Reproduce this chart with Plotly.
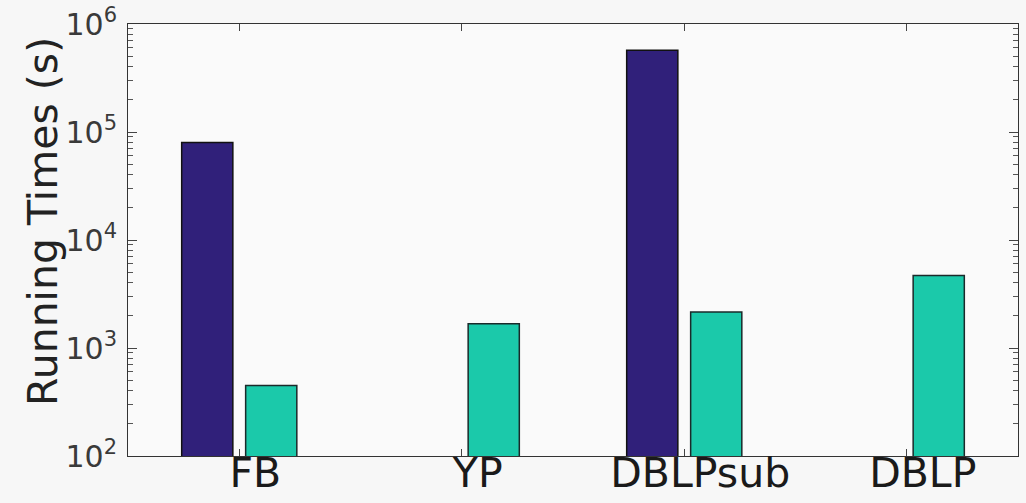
import plotly.graph_objects as go

categories = ["FB", "YP", "DBLPsub", "DBLP"]
series_a = [80000, None, 570000, None]
series_b = [450, 1680, 2150, 4700]
ytick_vals = [100, 1000, 10000, 100000, 1000000]
ytick_text = ["10<sup>2</sup>", "10<sup>3</sup>", "10<sup>4</sup>", "10<sup>5</sup>", "10<sup>6</sup>"]
yminor_vals = [m * 10 ** e for e in range(2, 6) for m in range(2, 10)]
y_title = "Running Times (s)"

NAVY = "#30207a"
TEAL = "#1bc9aa"

fig = go.Figure()
fig.add_trace(go.Bar(x=categories, y=series_a, marker=dict(color=NAVY, line=dict(color="#111", width=1.5)),
                     showlegend=False))
fig.add_trace(go.Bar(x=categories, y=series_b, marker=dict(color=TEAL, line=dict(color="#1a2a2a", width=1.5)),
                     showlegend=False))

fig.update_layout(
    width=1026, height=503,
    margin=dict(l=128, r=8, t=24, b=47),
    paper_bgcolor="#f7f7f7",
    plot_bgcolor="#fafafa",
    barmode="group",
    bargap=0.425,
    bargroupgap=0.2,
    font=dict(family="DejaVu Sans", color="#222"),
)
fig.update_xaxes(
    type="category",
    range=[-0.5, 3.5],
    automargin=False,
    showline=True, linecolor="#333", linewidth=1, mirror="ticks",
    ticks="inside", ticklen=7, tickcolor="#444",
    tickfont=dict(size=41, color="#1a1a1a", family="DejaVu Sans"),
    ticklabelstandoff=-19,
    ticklabelshift=16,
    showgrid=False,
)
fig.update_yaxes(
    type="log",
    range=[2, 6],
    automargin=False,
    tickmode="array",
    tickvals=ytick_vals,
    ticktext=ytick_text,
    showline=True, linecolor="#333", linewidth=1, mirror="ticks",
    ticks="inside", ticklen=9, tickcolor="#444",
    minor=dict(ticks="inside", ticklen=5, tickcolor="#555", tickmode="array", tickvals=yminor_vals, showgrid=False),
    tickfont=dict(size=30, color="#3a3a3a", family="DejaVu Sans"),
    ticklabelstandoff=4,
    showgrid=False,
    zeroline=False,
)
fig.add_annotation(
    text=y_title, textangle=-90, showarrow=False,
    xref="paper", yref="paper", x=-0.0955, y=0.5417,
    xanchor="center", yanchor="middle",
    font=dict(size=41, color="#222", family="DejaVu Sans"),
)

fig.write_html(
    "out.html",
    config={"displayModeBar": False},
    post_script="document.body.style.margin='0';document.body.style.background='#f7f7f7';",
)
